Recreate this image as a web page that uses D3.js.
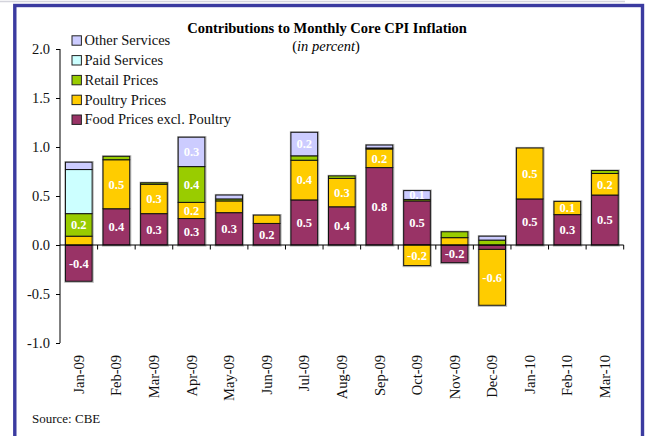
<!DOCTYPE html>
<html>
<head>
<meta charset="utf-8">
<script src="https://cdn.jsdelivr.net/npm/d3@7"></script>
<style>
    body { margin: 0; background: white; }
    text { font-family: "Liberation Serif", "Times New Roman", serif; }
</style>
</head>
<body>
<svg id="cpi_bar" width="648" height="436"></svg>
<script>
(() => {

// chart data
const months = ['Jan-09', 'Feb-09', 'Mar-09', 'Apr-09', 'May-09', 'Jun-09', 'Jul-09', 'Aug-09',
    'Sep-09', 'Oct-09', 'Nov-09', 'Dec-09', 'Jan-10', 'Feb-10', 'Mar-10'];

const food_values    = [-0.37, 0.37, 0.32, 0.27, 0.33, 0.22, 0.46, 0.39, 0.79, 0.45, -0.18, -0.045, 0.47, 0.31, 0.51];
const poultry_values = [0.09, 0.50, 0.30, 0.165, 0.12, 0.085, 0.405, 0.29, 0.19, -0.21, 0.075, -0.57, 0.52, 0.135, 0.22];
const retail_values  = [0.23, 0.035, 0.015, 0.365, 0.02, 0, 0.045, 0.025, 0.01, 0.015, 0.06, 0.05, 0, 0, 0.03];
const paid_values    = [0.45, 0, 0, 0, 0, 0, 0, 0, 0, 0, 0, 0, 0, 0, 0];
const other_values   = [0.075, 0, 0, 0.30, 0.04, 0, 0.24, 0, 0.03, 0.09, 0, 0.04, 0, 0, 0];

// data labels as printed on the bars ('' = none)
const food_labels    = ['-0.4', '0.4', '0.3', '0.3', '0.3', '0.2', '0.5', '0.4', '0.8', '0.5', '-0.2', '', '0.5', '0.3', '0.5'];
const poultry_labels = ['', '0.5', '0.3', '0.2', '', '', '0.4', '0.3', '0.2', '-0.2', '', '-0.6', '0.5', '0.1', '0.2'];
const retail_labels  = ['0.2', '', '', '0.4', '', '', '', '', '', '', '', '', '', '', ''];
const paid_labels    = ['', '', '', '', '', '', '', '', '', '', '', '', '', '', ''];
const other_labels   = ['', '', '', '0.3', '', '', '0.2', '', '', '0.1', '', '', '', '', ''];

const series_names = ['Food Prices excl. Poultry', 'Poultry Prices', 'Retail Prices', 'Paid Services', 'Other Services'];
const series_colors = ['#993366', '#ffcc00', '#99cc00', '#ccffff', '#ccccff'];

const y_ticks = [-1.0, -0.5, 0.0, 0.5, 1.0, 1.5, 2.0];

// define chart parameters
const plot_left = 60;
const plot_right = 623.7;
const plot_top = 49;
const plot_bottom = 343;
const band_padding = 0.29;
const font_size = 14.5;

let svg = d3.select('#cpi_bar');

// frame
svg.append('line')
    .attr('x1', 0).attr('x2', 625).attr('y1', 1.5).attr('y2', 1.5)
    .attr('stroke', '#d4d4dc').attr('stroke-width', 1.5);

svg.append('rect')
    .attr('x', 14.8).attr('y', 5.5)
    .attr('width', 642.5 - 14.8).attr('height', 460)
    .attr('fill', 'white')
    .attr('stroke', '#3b3ba0')
    .attr('stroke-width', 3.4);

// build table for stacking
let series_values = [food_values, poultry_values, retail_values, paid_values, other_values];
let series_labels = [food_labels, poultry_labels, retail_labels, paid_labels, other_labels];

let table = months.map((m, i) => {
    let row = {month: m, index: i};
    series_names.forEach((s, j) => row[s] = series_values[j][i]);
    return row;
});

let stacks = d3.stack()
    .keys(series_names)
    .offset(d3.stackOffsetDiverging)
    (table);

// scales
let x_scale = d3.scaleBand()
    .domain(months)
    .range([plot_left, plot_right])
    .paddingInner(band_padding)
    .paddingOuter(band_padding / 2);

let y_scale = d3.scaleLinear()
    .domain([-1, 2])
    .range([plot_bottom, plot_top]);

let colors = d3.scaleOrdinal()
    .domain(series_names)
    .range(series_colors);

// bar shadows
svg.append('g')
    .selectAll('rect')
    .data(table)
    .enter()
        .append('rect')
        .attr('x', (d) => x_scale(d.month) - 0.5)
        .attr('y', (d) => y_scale(d3.max(stacks, (s) => s[d.index][1])) - 0.5)
        .attr('width', x_scale.bandwidth() + 1.5)
        .attr('height', (d) => y_scale(d3.min(stacks, (s) => s[d.index][0])) - y_scale(d3.max(stacks, (s) => s[d.index][1])) + 1.5)
        .attr('fill', 'none')
        .attr('stroke', '#b8b8b8')
        .attr('stroke-width', 1.2);

// create bars
svg.append('g')
    .selectAll('g')
    .data(stacks)
    .enter()
        .append('g')
        .attr('fill', (d) => colors(d.key))
        .selectAll('rect')
        .data((d) => d.filter((p) => p[1] != p[0]))
        .enter()
            .append('rect')
            .attr('x', (d) => x_scale(d.data.month))
            .attr('y', (d) => y_scale(d[1]))
            .attr('width', x_scale.bandwidth())
            .attr('height', (d) => y_scale(d[0]) - y_scale(d[1]))
            .attr('stroke', '#111')
            .attr('stroke-width', 1);

// bar labels
svg.append('g')
    .selectAll('g')
    .data(stacks)
    .enter()
        .append('g')
        .selectAll('text')
        .data((d, j) => d.map((p) => ({p: p, label: series_labels[j][p.data.index]})).filter((e) => e.label != ''))
        .enter()
            .append('text')
            .attr('x', (d) => x_scale(d.p.data.month) + x_scale.bandwidth() / 2)
            .attr('y', (d) => (y_scale(d.p[0]) + y_scale(d.p[1])) / 2)
            .attr('dy', '0.35em')
            .attr('text-anchor', 'middle')
            .style('font-size', '12.5px')
            .style('font-weight', 'bold')
            .style('fill', 'white')
            .text((d) => d.label);

// create Y axis (plain hyphen for negatives, as in the source)
let y_axis = d3.axisLeft(y_scale)
    .tickValues(y_ticks)
    .tickFormat((d) => d.toFixed(1))
    .tickSize(4)
    .tickPadding(6);

let y_g = svg.append('g')
    .attr('transform', `translate(${plot_left}, 0)`)
    .call(y_axis);
y_g.select('.domain').attr('d', `M0,${plot_top}V${plot_bottom}`);
y_g.selectAll('text')
    .style('font-size', font_size + 'px')
    .style('font-family', '"Liberation Serif", serif')
    .style('fill', '#111');

// create X axis along zero, ticks at band boundaries
let zero_y = y_scale(0);
svg.append('line')
    .attr('x1', plot_left).attr('x2', plot_right)
    .attr('y1', zero_y).attr('y2', zero_y)
    .attr('stroke', 'black');

let step = x_scale.step();
svg.append('g')
    .selectAll('line')
    .data(months)
    .enter()
        .append('line')
        .attr('x1', (d) => x_scale(d) + x_scale.bandwidth() + (step - x_scale.bandwidth()) / 2)
        .attr('x2', (d) => x_scale(d) + x_scale.bandwidth() + (step - x_scale.bandwidth()) / 2)
        .attr('y1', zero_y)
        .attr('y2', zero_y + 4.5)
        .attr('stroke', 'black');

// month labels
svg.append('g')
    .selectAll('text')
    .data(months)
    .enter()
        .append('text')
        .attr('transform', (d) => `translate(${x_scale(d) + x_scale.bandwidth() / 2}, 355) rotate(-90)`)
        .attr('dy', '0.35em')
        .attr('text-anchor', 'end')
        .style('font-size', font_size + 'px')
        .style('fill', '#111')
        .text((d) => d);

// title
svg.append('text')
    .attr('x', 327).attr('y', 33)
    .attr('text-anchor', 'middle')
    .style('font-size', font_size + 'px')
    .style('font-weight', 'bold')
    .text('Contributions to Monthly Core CPI Inflation');

let sub = svg.append('text')
    .attr('x', 326).attr('y', 51)
    .attr('text-anchor', 'middle')
    .style('font-size', font_size + 'px');
sub.append('tspan').text('(');
sub.append('tspan').style('font-style', 'italic').text('in percent');
sub.append('tspan').text(')');

// legend
let legend = svg.append('g')
    .selectAll('g')
    .data(series_names.slice().reverse())
    .enter()
        .append('g')
        .attr('transform', (d, i) => `translate(72, ${40.5 + i * 19.8})`);

legend.append('rect')
    .attr('x', 0).attr('y', -4.7)
    .attr('width', 9.4).attr('height', 9.4)
    .attr('fill', (d) => colors(d))
    .attr('stroke', '#222');

legend.append('text')
    .attr('x', 12.5)
    .attr('dy', '0.33em')
    .style('font-size', font_size + 'px')
    .style('fill', '#111')
    .text((d) => d);

// source
svg.append('text')
    .attr('x', 32).attr('y', 423)
    .style('font-size', '13px')
    .style('fill', '#111')
    .text('Source: CBE');

})();
</script>
</body>
</html>
